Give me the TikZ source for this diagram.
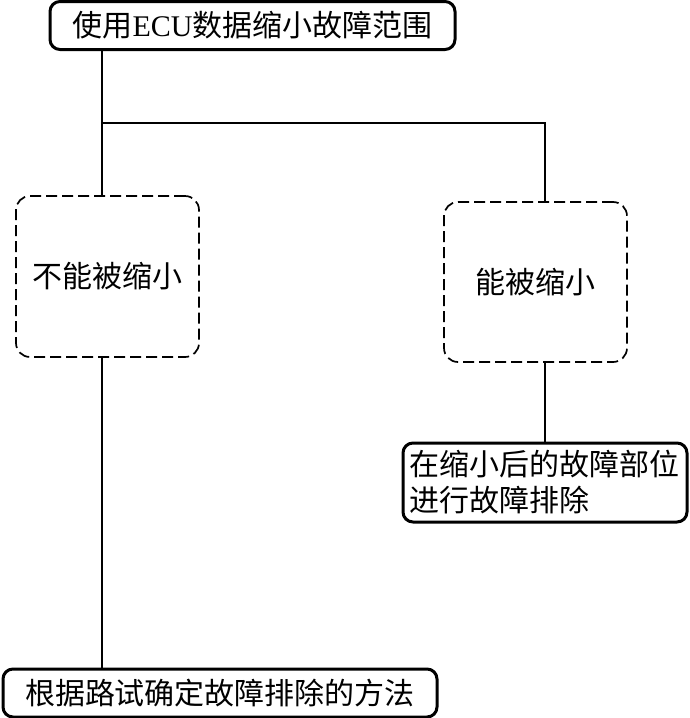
\documentclass[tikz,border=0pt]{standalone}
\usepackage{fontspec}
\setmainfont{Liberation Serif}
\newfontfamily\cjk{Noto Sans CJK SC}
\usepackage{tikz}

\begin{document}
\begin{tikzpicture}[x=1pt,y=-1pt,
    font=\fontsize{30}{36}\selectfont\cjk,
    solidbox/.style={draw,line width=3pt,rounded corners=10pt,inner sep=0pt},
    dashbox/.style={draw,line width=1.7pt,dash pattern=on 11pt off 5pt,rounded corners=14pt,inner sep=0pt,minimum width=183pt,minimum height=161pt},
    link/.style={line width=1.3pt}]
    \useasboundingbox (0,0) rectangle (690,718);

    \node[solidbox,minimum width=405pt,minimum height=48pt] (top) at (252.5,25.5) {使用{\rmfamily ECU}数据缩小故障范围};

    \node[dashbox] (cannot) at (107.5,276.5) {不能被缩小};
    \node[dashbox,minimum height=160pt] (can) at (535.5,282) {能被缩小};

    \node[solidbox,minimum width=284pt,minimum height=79pt,text width=272pt,inner xsep=6pt,align=left] (local) at (545,482.5) {在缩小后的故障部位\\进行故障排除};
    \node[solidbox,minimum width=434pt,minimum height=48pt] (road) at (220,693) {根据路试确定故障排除的方法};

    \coordinate (split) at (102,123);
    \coordinate (rsplit) at (545,123);

    \draw[link] (top.south -| split) -- (cannot.north -| split);
    \draw[link] (split) -- (rsplit) -- (can.north -| rsplit);
    \draw[link] (can.south -| rsplit) -- (local.north -| rsplit);
    \draw[link] (cannot.south -| split) -- (road.north -| split);
\end{tikzpicture}
\end{document}
